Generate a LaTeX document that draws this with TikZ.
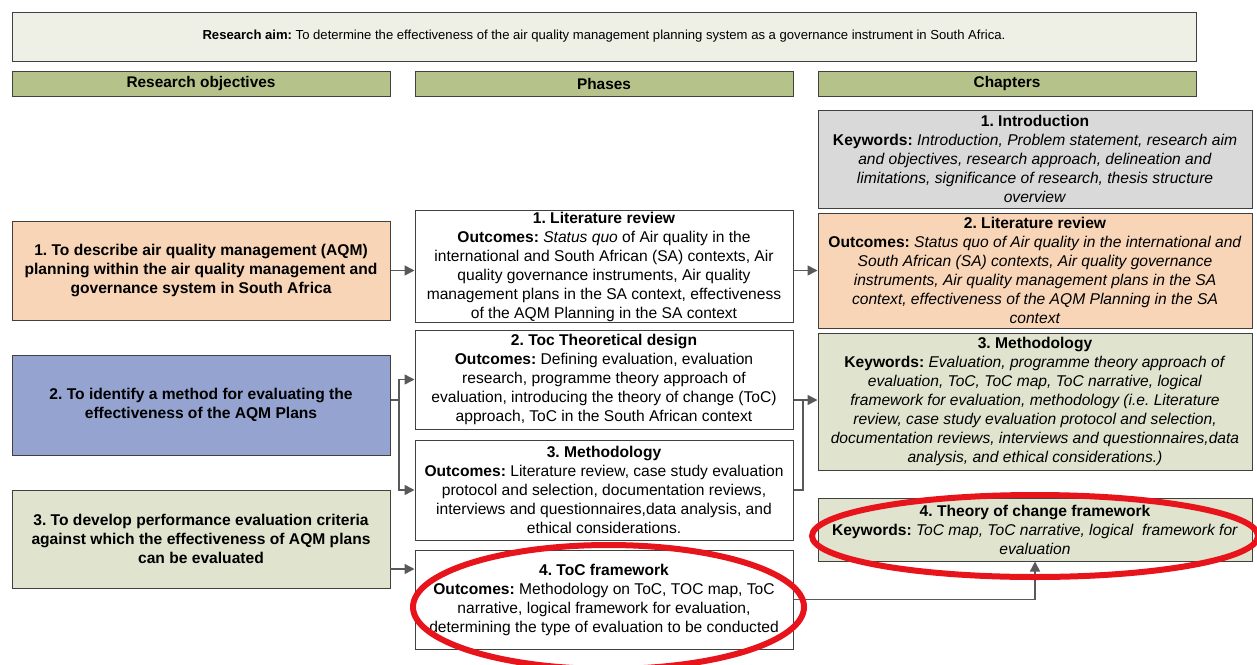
\documentclass[tikz,border=0pt]{standalone}
\usepackage{fontspec}
\setmainfont{Liberation Sans}
\usetikzlibrary{arrows.meta}

\definecolor{boxline}{HTML}{404040}
\definecolor{aimfill}{HTML}{EEF0E6}
\definecolor{headfill}{HTML}{B5C38B}
\definecolor{peachfill}{HTML}{F8D5B7}
\definecolor{bluefill}{HTML}{94A3D0}
\definecolor{greenfill}{HTML}{E0E4CE}
\definecolor{greyfill}{HTML}{D9D9D9}
\definecolor{arrowgrey}{HTML}{595959}
\definecolor{ringred}{HTML}{E8141B}

\newcommand{\bodysize}{\fontsize{7.8}{9.5}\selectfont}
\frenchspacing

\begin{document}
\begin{tikzpicture}[x=0.5pt, y=-0.5pt, >={Triangle[length=5pt, width=5pt]},
        box/.style={draw=boxline, line width=0.5pt, align=center, inner sep=0.5pt, font=\bodysize},
        aimbox/.style={box, fill=aimfill, minimum width=592pt, minimum height=24.5pt, font=\fontsize{6.55}{7.5}\selectfont},
        headbox/.style={box, fill=headfill, minimum width=189pt, minimum height=12.5pt, font=\fontsize{7.7}{8.5}\selectfont\bfseries},
        objbox/.style={box, minimum width=189pt, font=\bodysize\bfseries},
        phasebox/.style={box, fill=white, minimum width=189pt},
        chapbox/.style={box, minimum width=217pt},
        link/.style={draw=arrowgrey, line width=0.75pt},
        ring/.style={draw=ringred, line width=3pt}]

        \useasboundingbox (0,0) rectangle (1257,664);

        % Aim and column heads
        \node at (604,36.5) [aimbox] (aim) {\textbf{Research aim:} To determine the effectiveness of the air quality management planning system as a governance instrument in South Africa.};
        \node at (201,83.5) [headbox] (hobj) {Research objectives};
        \node at (604,83.5) [headbox] (hphase) {Phases};
        \node at (1007,83.5) [headbox] (hchap) {Chapters};

        % Objectives
        \node at (201,270.5) [objbox, fill=peachfill, minimum height=49.5pt] (obj1) {1. To describe air quality management (AQM)\\ planning within the air quality management and\\ governance system in South Africa};
        \node at (201,405) [objbox, fill=bluefill, minimum height=50pt] (obj2) {2. To identify a method for evaluating the\\ effectiveness of the AQM Plans};
        \node at (201,539) [objbox, fill=greenfill, minimum height=49pt] (obj3) {3. To develop performance evaluation criteria\\ against which the effectiveness of AQM plans\\ can be evaluated};

        % Phases
        \node at (604,266.5) [phasebox, minimum height=53pt] (ph1) {\textbf{1. Literature review}\\ \textbf{Outcomes:} \textit{Status quo} of Air quality in the\\ international and South African (SA) contexts, Air\\ quality governance instruments, Air quality\\ management plans in the SA context, effectiveness\\ of the AQM Planning in the SA context};
        \node at (604,379.5) [phasebox, minimum height=49.5pt] (ph2) {\textbf{2. Toc Theoretical design}\\ \textbf{Outcomes:} Defining evaluation, evaluation\\ research, programme theory approach of\\ evaluation, introducing the theory of change (ToC)\\ approach, ToC in the South African context};
        \node at (604,490) [phasebox, minimum height=50pt] (ph3) {\textbf{3. Methodology}\\ \textbf{Outcomes:} Literature review, case study evaluation\\ protocol and selection, documentation reviews,\\ interviews and questionnaires,data analysis, and\\ ethical considerations.};
        \node at (604,599.5) [phasebox, minimum height=49.5pt] (ph4) {\textbf{4. ToC framework}\\ \textbf{Outcomes:} Methodology on ToC, TOC map, ToC\\ narrative, logical framework for evaluation,\\ determining the type of evaluation to be conducted};

        % Chapters
        \node at (1035,159) [chapbox, fill=greyfill, minimum height=49pt] (ch1) {\textbf{1. Introduction}\\ \textbf{Keywords:} \textit{Introduction, Problem statement, research aim}\\ \textit{and objectives, research approach, delineation and}\\ \textit{limitations, significance of research, thesis structure}\\ \textit{overview}};
        \node at (1035,270.5) [chapbox, fill=peachfill, minimum height=57.5pt] (ch2) {\textbf{2. Literature review}\\ \textbf{Outcomes:} \textit{Status quo of Air quality in the international and}\\ \textit{South African (SA) contexts, Air quality governance}\\ \textit{instruments, Air quality management plans in the SA}\\ \textit{context, effectiveness of the AQM Planning in the SA}\\ \textit{context}};
        \node at (1035,401.5) [chapbox, fill=greenfill, minimum height=68.5pt] (ch3) {\textbf{3. Methodology}\\ \textbf{Keywords:} \textit{Evaluation, programme theory approach of}\\ \textit{evaluation, ToC, ToC map, ToC narrative, logical}\\ \textit{framework for evaluation, methodology (i.e. Literature}\\ \textit{review, case study evaluation protocol and selection,}\\ \textit{documentation reviews, interviews and questionnaires,data}\\ \textit{analysis, and ethical considerations.)}};
        \node at (1035,529.5) [chapbox, fill=greenfill, minimum height=31.5pt] (ch4) {\textbf{4. Theory of change framework}\\ \textbf{Keywords:} \textit{ToC map, ToC narrative, logical\ \ framework for}\\ \textit{evaluation}};

        % Junction points
        \coordinate (fork2) at (399,400);
        \coordinate (join3) at (803,400);
        \coordinate (out3) at (390,569);

        % Arrows
        \draw[link, ->] (obj1.east) -- (obj1.east -| ph1.west);
        \draw[link, ->] (ph1.east |- obj1.east) -- (obj1.east -| ch2.west);
        \draw[link] (obj2.east |- fork2) -- (fork2);
        \draw[link, ->] (fork2) |- (ph2.west);
        \draw[link, ->] (fork2) |- (ph3.west);
        \draw[link] (ph3.east) -| (join3);
        \draw[link, ->] (ph2.east |- join3) -- (join3 -| ch3.west);
        \draw[link, ->] (out3) -- (out3 -| ph4.west);
        \draw[link, ->] (ph4.east) -| (ch4.south);

        % Red rings
        \draw[ring] (608.5,607) ellipse [x radius=97.75pt, y radius=31pt];
        \draw[ring] (1035,536) ellipse [x radius=111.5pt, y radius=20.5pt];

\end{tikzpicture}
\end{document}
